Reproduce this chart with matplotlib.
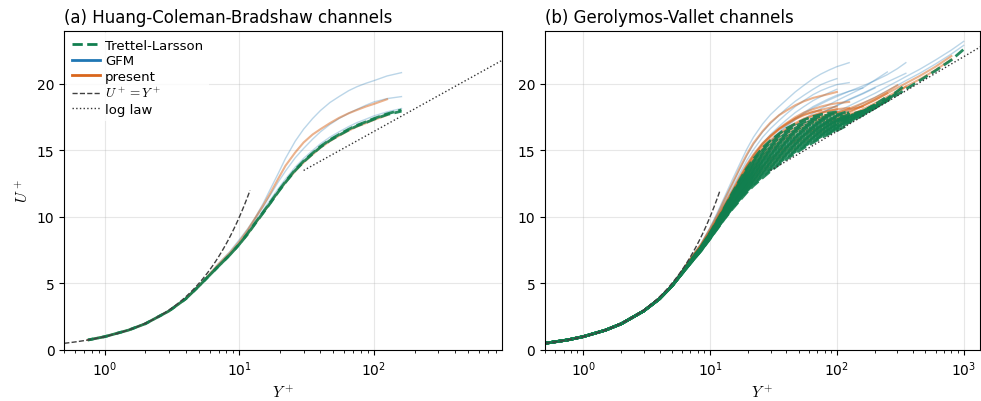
import numpy as np
import matplotlib.pyplot as plt
from matplotlib.lines import Line2D

plt.rcParams['mathtext.fontset'] = 'cm'
plt.rcParams['font.size'] = 10

BLUE = '#1f77b4'
ORANGE = '#d9661c'
GREEN = '#117f4f'

# near-wall part, all cases collapse here
wall_y = [0.5, 0.75, 1, 1.5, 2, 3, 4, 5]
wall_u = [0.5, 0.75, 1.0, 1.49, 1.97, 2.93, 3.85, 4.8]

# sample positions for the outer part of every profile
outer_y = [7, 8.5, 10, 11.5, 13, 15, 17, 19.5, 22, 26, 30, 35, 40, 47, 55,
           65, 75, 87, 100, 125, 160, 200, 250, 300, 350, 450, 600, 800, 1000]

# (a) Huang-Coleman-Bradshaw channels
hcb_gfm = [
    [6.5, 7.4, 8.3, 9.1, 9.9, 11.0, 12.1, 13.3, 14.4, 15.7, 16.6, 17.4, 18.0,
     18.6, 19.05, 19.5, 19.8, 20.05, 20.25, 20.6, 20.85],
    [6.4, 7.25, 8.1, 8.95, 9.8, 10.75, 11.65, 12.65, 13.45, 14.45, 15.15,
     15.85, 16.4, 16.95, 17.4, 17.8, 18.1, 18.4, 18.65, 18.9, 19.05],
    [6.35, 7.2, 8.0, 8.85, 9.6, 10.5, 11.3, 12.15, 12.85, 13.75, 14.4, 15.0,
     15.5, 16.0, 16.4, 16.8, 17.1, 17.35, 17.6, 17.9, 18.15],
]
hcb_present = [
    [6.45, 7.3, 8.15, 9.0, 9.85, 10.85, 11.8, 12.9, 13.85, 14.85, 15.6, 16.2,
     16.6, 17.05, 17.45, 17.8, 18.05, 18.3, 18.5, 18.85],
    [6.3, 7.15, 7.95, 8.7, 9.45, 10.3, 11.05, 11.9, 12.6, 13.45, 14.1, 14.7,
     15.2, 15.7, 16.1, 16.5, 16.8, 17.05, 17.3, 17.65],
]
hcb_tl = [
    [6.3, 7.15, 7.95, 8.75, 9.5, 10.35, 11.1, 11.95, 12.65, 13.55, 14.2, 14.8,
     15.3, 15.8, 16.2, 16.6, 16.9, 17.15, 17.4, 17.75, 18.05],
    [6.3, 7.15, 7.95, 8.7, 9.45, 10.3, 11.05, 11.9, 12.6, 13.5, 14.15, 14.75,
     15.25, 15.75, 16.15, 16.55, 16.85, 17.1, 17.35, 17.7, 17.95],
]

# (b) Gerolymos-Vallet channels
gv_gfm = [
    [6.9, 8.0, 9.2, 10.4, 11.5, 12.8, 13.9, 15.1, 16.0, 17.0, 17.7, 18.3,
     18.8, 19.4, 19.9, 20.4, 20.75, 21.05, 21.3, 21.6],
    [6.85, 7.95, 9.1, 10.25, 11.3, 12.5, 13.5, 14.6, 15.45, 16.4, 17.05,
     17.65, 18.15, 18.7, 19.15, 19.6, 19.95, 20.2, 20.4],
    [6.85, 7.9, 9.0, 10.1, 11.1, 12.2, 13.2, 14.25, 15.05, 16.0, 16.65, 17.25,
     17.75, 18.3, 18.75, 19.2, 19.5, 19.75, 19.95, 20.1],
    [6.8, 7.85, 8.9, 9.95, 10.9, 11.95, 12.9, 13.9, 14.65, 15.55, 16.2, 16.8,
     17.3, 17.85, 18.3, 18.75, 19.05, 19.35, 19.6],
    [6.8, 7.8, 8.85, 9.85, 10.75, 11.75, 12.6, 13.55, 14.25, 15.1, 15.7, 16.3,
     16.8, 17.3, 17.75, 18.2, 18.5, 18.8, 19.05, 19.45, 19.85, 20.25, 20.7,
     21.15, 21.6],
    [6.75, 7.75, 8.75, 9.7, 10.55, 11.5, 12.3, 13.2, 13.85, 14.7, 15.3, 15.9,
     16.4, 16.9, 17.35, 17.8, 18.15, 18.45, 18.75, 19.2, 19.7, 20.3, 20.9],
    [6.75, 7.7, 8.7, 9.6, 10.4, 11.3, 12.05, 12.9, 13.5, 14.3, 14.9, 15.5,
     16.0, 16.55, 17.0, 17.45, 17.8, 18.1, 18.4, 18.85, 19.3, 19.75, 20.15,
     20.5, 20.8],
    [6.7, 7.65, 8.6, 9.45, 10.2, 11.05, 11.75, 12.5, 13.1, 13.85, 14.4, 15.0,
     15.5, 16.0, 16.45, 16.9, 17.25, 17.6, 17.9, 18.35, 18.85, 19.3, 19.8,
     20.2, 20.55, 21.1, 21.8, 22.55, 23.2],
    [6.65, 7.6, 8.55, 9.35, 10.1, 10.9, 11.55, 12.3, 12.85, 13.55, 14.1, 14.7,
     15.2, 15.7, 16.15, 16.6, 16.95, 17.3, 17.6, 18.05, 18.55, 19.0, 19.5,
     19.9, 20.25, 20.8, 21.5, 22.25, 22.9],
    [6.8, 7.8, 8.8, 9.8, 10.7, 11.7, 12.55, 13.5, 14.2, 15.1, 15.75, 16.4,
     16.9, 17.4, 17.85, 18.3, 18.6, 18.9, 19.15, 19.45, 19.7],
    [6.75, 7.7, 8.65, 9.55, 10.35, 11.25, 12.0, 12.85, 13.5, 14.3, 14.9, 15.5,
     16.0, 16.55, 17.0, 17.45, 17.8, 18.1, 18.35, 18.8, 19.25, 19.7],
]
gv_present = [
    [6.85, 7.95, 9.1, 10.2, 11.3, 12.5, 13.6, 14.7, 15.55, 16.45, 17.1, 17.65,
     18.0, 18.4, 18.7, 18.95, 19.1, 19.25, 19.4],
    [6.8, 7.85, 8.95, 10.0, 10.95, 12.0, 12.95, 13.95, 14.7, 15.55, 16.1,
     16.6, 16.95, 17.35, 17.65, 17.9, 18.05, 18.2, 18.3],
    [6.75, 7.8, 8.85, 9.85, 10.75, 11.8, 12.7, 13.65, 14.35, 15.2, 15.75,
     16.25, 16.65, 17.05, 17.4, 17.65, 17.85, 18.0, 18.1, 18.2],
    [6.7, 7.75, 8.75, 9.7, 10.55, 11.55, 12.4, 13.3, 13.95, 14.75, 15.3,
     15.85, 16.25, 16.7, 17.05, 17.35, 17.55, 17.75, 17.9],
    [6.7, 7.7, 8.7, 9.6, 10.45, 11.4, 12.2, 13.05, 13.7, 14.45, 15.0, 15.5,
     15.9, 16.35, 16.7, 17.05, 17.35, 17.6, 17.8, 18.15, 18.55, 18.95, 19.45,
     19.9],
    [6.65, 7.65, 8.6, 9.5, 10.3, 11.2, 12.0, 12.8, 13.45, 14.2, 14.75, 15.25,
     15.65, 16.1, 16.45, 16.8, 17.1, 17.35, 17.6, 17.95, 18.35, 18.8, 19.3],
    [6.6, 7.6, 8.55, 9.4, 10.2, 11.05, 11.8, 12.55, 13.15, 13.85, 14.4, 14.9,
     15.3, 15.75, 16.15, 16.55, 16.85, 17.15, 17.4, 17.85, 18.35, 18.8, 19.3,
     19.7, 20.05, 20.6, 21.3, 22.1],
    [6.58, 7.55, 8.5, 9.3, 10.05, 10.9, 11.6, 12.35, 12.9, 13.6, 14.1, 14.6,
     15.0, 15.45, 15.85, 16.25, 16.6, 16.9, 17.15, 17.6, 18.1, 18.55, 19.05,
     19.45, 19.8, 20.35, 21.05, 21.85],
    [6.6, 7.6, 8.55, 9.4, 10.15, 11.0, 11.75, 12.5, 13.1, 13.8, 14.35, 14.85,
     15.25, 15.7, 16.1, 16.5, 16.8, 17.1, 17.35, 17.7, 18.0],
    [6.55, 7.5, 8.45, 9.25, 10.0, 10.8, 11.45, 12.15, 12.7, 13.35, 13.85,
     14.35, 14.75, 15.2, 15.6, 16.0, 16.35, 16.65, 16.95, 17.4, 17.9, 18.35,
     18.85, 19.35, 19.8],
    [6.8, 7.85, 8.9, 9.9, 10.85, 11.9, 12.85, 13.85, 14.6, 15.5, 16.1, 16.65,
     17.05, 17.5, 17.85, 18.1, 18.3, 18.45, 18.55, 18.65],
    [6.75, 7.8, 8.8, 9.75, 10.65, 11.65, 12.55, 13.5, 14.2, 15.05, 15.6,
     16.15, 16.55, 16.95, 17.3, 17.6, 17.8, 17.95, 18.1],
    [6.7, 7.7, 8.7, 9.65, 10.5, 11.45, 12.3, 13.15, 13.8, 14.6, 15.15, 15.65,
     16.05, 16.5, 16.85, 17.2, 17.45, 17.7, 17.85, 18.1, 18.3],
    [6.75, 7.8, 8.85, 9.85, 10.75, 11.8, 12.75, 13.75, 14.5, 15.4, 16.0,
     16.6, 17.0, 17.4, 17.7, 17.9, 18.0],
]
gv_tl = [
    [6.7, 7.75, 8.8, 9.8, 10.7, 11.8, 12.7, 13.65, 14.35, 15.2, 15.75, 16.25,
     16.65, 17.0, 17.3, 17.55, 17.7, 17.82, 17.9],
    [6.68, 7.73, 8.76, 9.75, 10.63, 11.7, 12.58, 13.51, 14.19, 15.02, 15.57,
     16.07, 16.47, 16.82, 17.13, 17.39, 17.56, 17.69, 17.79],
    [6.67, 7.71, 8.73, 9.7, 10.57, 11.62, 12.48, 13.38, 14.05, 14.86, 15.41,
     15.91, 16.31, 16.67, 16.99, 17.26, 17.44, 17.58, 17.69, 17.95],
    [6.66, 7.68, 8.7, 9.66, 10.51, 11.54, 12.37, 13.25, 13.91, 14.7, 15.24,
     15.74, 16.14, 16.52, 16.84, 17.12, 17.32, 17.47, 17.59, 17.85],
    [6.64, 7.67, 8.67, 9.62, 10.46, 11.46, 12.28, 13.15, 13.79, 14.57, 15.1,
     15.6, 16.0, 16.38, 16.71, 17.0, 17.21, 17.38, 17.5],
    [6.63, 7.65, 8.65, 9.58, 10.41, 11.39, 12.19, 13.04, 13.67, 14.44, 14.97,
     15.47, 15.87, 16.25, 16.59, 16.89, 17.11, 17.29, 17.42, 17.7, 17.95],
    [6.62, 7.63, 8.62, 9.54, 10.36, 11.32, 12.1, 12.93, 13.55, 14.3, 14.83,
     15.33, 15.73, 16.12, 16.46, 16.77, 17.0, 17.19, 17.34, 17.6, 17.85],
    [6.61, 7.62, 8.6, 9.51, 10.32, 11.26, 12.03, 12.84, 13.45, 14.19, 14.72,
     15.22, 15.62, 16.01, 16.36, 16.67, 16.91, 17.11, 17.27, 17.55],
    [6.6, 7.6, 8.58, 9.48, 10.28, 11.2, 11.95, 12.75, 13.35, 14.08, 14.6,
     15.1, 15.5, 15.9, 16.25, 16.58, 16.83, 17.04, 17.2, 17.55, 17.95, 18.4],
    [6.59, 7.59, 8.55, 9.44, 10.23, 11.14, 11.88, 12.66, 13.25, 13.96, 14.49,
     14.99, 15.39, 15.79, 16.15, 16.48, 16.74, 16.96, 17.13, 17.5, 17.95,
     18.45],
    [6.58, 7.57, 8.53, 9.41, 10.19, 11.08, 11.8, 12.57, 13.15, 13.85, 14.37,
     14.87, 15.27, 15.68, 16.04, 16.38, 16.65, 16.88, 17.06, 17.45, 17.9,
     18.45, 19.05],
    [6.57, 7.56, 8.51, 9.38, 10.15, 11.02, 11.73, 12.48, 13.05, 13.74, 14.26,
     14.76, 15.16, 15.57, 15.94, 16.28, 16.56, 16.8, 16.99],
    [6.56, 7.54, 8.49, 9.35, 10.1, 10.96, 11.65, 12.39, 12.95, 13.63, 14.14,
     14.64, 15.04, 15.46, 15.83, 16.19, 16.48, 16.72, 16.92, 17.35, 17.85,
     18.35, 18.9, 19.45, 19.95],
    [6.55, 7.53, 8.46, 9.31, 10.06, 10.9, 11.58, 12.3, 12.85, 13.51, 14.03,
     14.53, 14.93, 15.35, 15.73, 16.09, 16.39, 16.64, 16.85, 17.3, 17.8],
    [6.54, 7.51, 8.44, 9.28, 10.02, 10.84, 11.5, 12.21, 12.75, 13.4, 13.91,
     14.41, 14.81, 15.24, 15.62, 15.99, 16.3, 16.56, 16.78, 17.25, 17.75,
     18.25, 18.8, 19.35],
    [6.53, 7.5, 8.42, 9.25, 9.98, 10.78, 11.43, 12.12, 12.65, 13.29, 13.8,
     14.3, 14.7, 15.13, 15.52, 15.89, 16.21, 16.49, 16.71, 17.15, 17.7, 18.2,
     18.75],
    [6.52, 7.48, 8.4, 9.22, 9.94, 10.72, 11.35, 12.03, 12.55, 13.18, 13.68,
     14.18, 14.58, 15.02, 15.41, 15.8, 16.13, 16.41, 16.64, 17.1, 17.65,
     18.2, 18.75, 19.2, 19.6, 20.25, 21.0, 21.8, 22.6],
    [6.51, 7.47, 8.37, 9.18, 9.89, 10.66, 11.28, 11.94, 12.45, 13.06, 13.57,
     14.07, 14.47, 14.91, 15.31, 15.7, 16.04, 16.33, 16.57],
    [6.5, 7.45, 8.35, 9.15, 9.85, 10.6, 11.2, 11.85, 12.35, 12.95, 13.45,
     13.95, 14.35, 14.8, 15.2, 15.6, 15.95, 16.25, 16.5, 16.95],
]

# reference laws
kappa = 0.41
B = 5.2
visc_y = np.geomspace(0.5, 12, 60)
loglaw_y = np.geomspace(30, 2000, 60)


def profile(u_outer, start=0):
    y = wall_y[start:] + outer_y[:len(u_outer)]
    u = wall_u[start:] + list(u_outer)
    return y, u


def draw_panel(ax, gfm, present, tl, start):
    for u in gfm:
        ax.plot(*profile(u, start), color=BLUE, lw=1.0, alpha=0.3)
    for u in present:
        ax.plot(*profile(u, start), color=ORANGE, lw=1.5, alpha=0.5)
    for i, u in enumerate(tl):
        ax.plot(*profile(u, start), color=GREEN, lw=2.0, alpha=0.9,
                ls=(1.7 * i, (3.7, 1.6)))
    ax.plot(visc_y, visc_y, color='0.25', lw=1.0, ls='--')
    ax.plot(loglaw_y, np.log(loglaw_y) / kappa + B, color='0.2', lw=1.0, ls=':')
    ax.set_xscale('log')
    ax.set_ylim(0, 24)
    ax.set_yticks([0, 5, 10, 15, 20])
    ax.grid(True, alpha=0.3)
    ax.set_xlabel('$Y^+$', fontsize=11)


fig = plt.figure(figsize=(9.81, 4.02), dpi=100)
ax1 = fig.add_axes([0.0655, 0.127, 0.446, 0.794])
ax2 = fig.add_axes([0.5556, 0.127, 0.4434, 0.794])

draw_panel(ax1, hcb_gfm, hcb_present, hcb_tl, start=1)
ax1.set_xlim(0.5, 890)
ax1.set_ylabel('$U^+$', fontsize=11)
ax1.set_title('(a) Huang-Coleman-Bradshaw channels', loc='left', fontsize=12)

draw_panel(ax2, gv_gfm, gv_present, gv_tl, start=0)
ax2.set_xlim(0.5, 1346)
ax2.set_title('(b) Gerolymos-Vallet channels', loc='left', fontsize=12)

handles = [
    Line2D([], [], color=GREEN, lw=2.0, ls='--'),
    Line2D([], [], color=BLUE, lw=2.0),
    Line2D([], [], color=ORANGE, lw=2.0),
    Line2D([], [], color='0.25', lw=1.0, ls='--'),
    Line2D([], [], color='0.2', lw=1.0, ls=':'),
]
labels = ['Trettel-Larsson', 'GFM', 'present', '$U^+=Y^+$', 'log law']
leg = ax1.legend(handles, labels, loc='upper left', fontsize=9.5,
                 frameon=True, borderaxespad=0.2, labelspacing=0.2,
                 handletextpad=0.4, handlelength=2.1)
leg.get_frame().set_edgecolor('none')

fig.savefig('out.png', dpi=100)
